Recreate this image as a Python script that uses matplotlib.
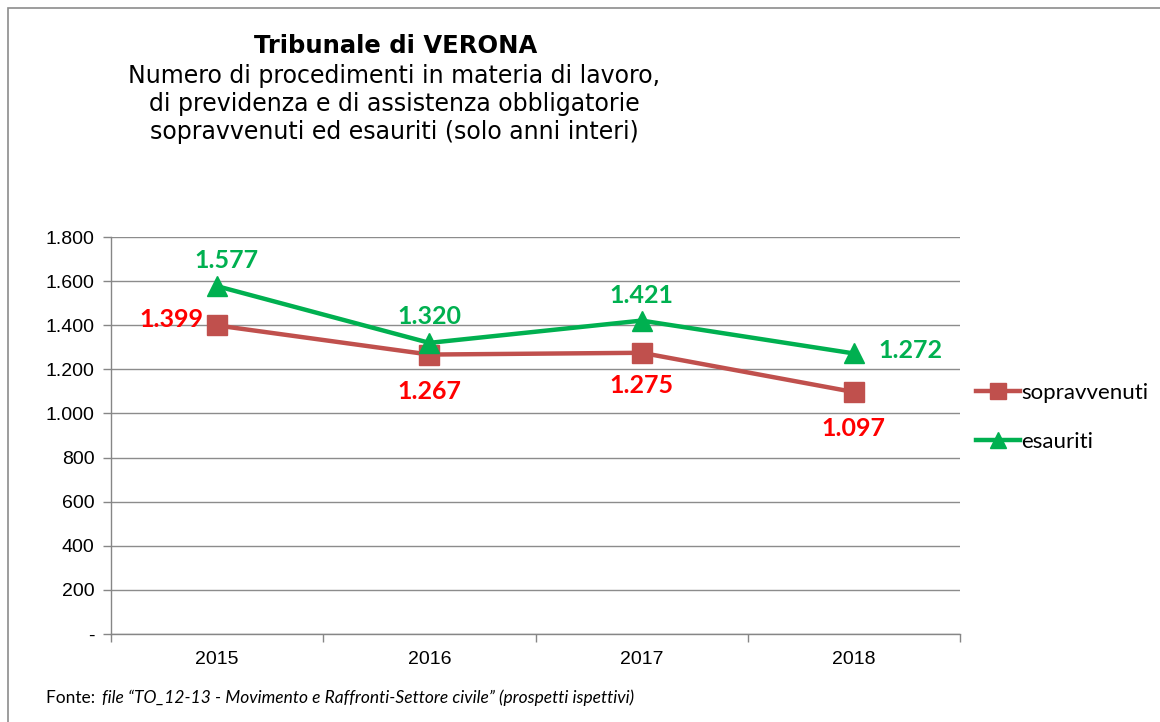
import matplotlib
matplotlib.use("Agg")
import matplotlib.pyplot as plt
from matplotlib.patches import Rectangle
from matplotlib.ticker import FuncFormatter, FixedLocator

years = ["2015", "2016", "2017", "2018"]
sopravvenuti = [1399, 1267, 1275, 1097]
esauriti = [1577, 1320, 1421, 1272]
yticks = [0, 200, 400, 600, 800, 1000, 1200, 1400, 1600, 1800]

red_line = "#C0504D"
green_line = "#00B050"
red_lab = "#FF0000"
green_lab = "#00B050"

fig = plt.figure(figsize=(11.6, 7.22), dpi=100)
fig.patch.set_facecolor("white")
# outer frame
fig.patches.append(Rectangle((8/1160, -0.1), 1.2, 1 - 8/722 + 0.1, transform=fig.transFigure,
                             fill=False, edgecolor="#8c8c8c", linewidth=1.2))

ax = fig.add_axes([111/1160, 1 - 634/722, (960-111)/1160, (634-237)/722])
x = list(range(len(years)))
ax.plot(x, sopravvenuti, color=red_line, linewidth=3.2, marker="s", markersize=15,
        label="sopravvenuti", zorder=3)
ax.plot(x, esauriti, color=green_line, linewidth=3.2, marker="^", markersize=15,
        label="esauriti", zorder=3)

ax.set_xlim(-0.5, 3.5)
ax.set_ylim(0, 1800)
ax.set_yticks(yticks)
def fmt(v, p):
    if v == 0:
        return "-"
    return f"{int(v):,}".replace(",", ".")
ax.yaxis.set_major_formatter(FuncFormatter(fmt))
ax.set_xticks(x)
ax.set_xticklabels(years)
ax.xaxis.set_minor_locator(FixedLocator([-0.5, 0.5, 1.5, 2.5, 3.5]))
ax.tick_params(axis="x", which="major", length=0, pad=12, labelsize=14, colors="#000000")
ax.tick_params(axis="x", which="minor", length=6, color="#868686", width=1)
ax.tick_params(axis="y", length=6, color="#868686", width=1, labelsize=14, pad=6)
for lab in ax.get_xticklabels() + ax.get_yticklabels():
    lab.set_fontfamily("Liberation Sans")
ax.grid(axis="y", color="#8c8c8c", linewidth=1)
ax.set_axisbelow(True)
for s in ["top", "right"]:
    ax.spines[s].set_visible(False)
for s in ["left", "bottom"]:
    ax.spines[s].set_color("#868686")
    ax.spines[s].set_linewidth(1)

def lab(v):
    return f"{v:,}".replace(",", ".")

lf = dict(fontfamily="Lato", fontweight="bold", fontsize=18)
offs_s = [(-10, 4, "right", "center"), (0, -18, "center", "top"), (0, -15, "center", "top"), (0, -18, "center", "top")]
for i, v in enumerate(sopravvenuti):
    dx, dy, ha, va = offs_s[i]
    ax.annotate(lab(v), (i, v), xytext=(dx, dy), textcoords="offset points", ha=ha, va=va,
                color=red_lab, **lf)
offs_e = [(7, 10, "center", "bottom"), (0, 11, "center", "bottom"), (0, 10, "center", "bottom"), (18, 2, "left", "center")]
for i, v in enumerate(esauriti):
    dx, dy, ha, va = offs_e[i]
    ax.annotate(lab(v), (i, v), xytext=(dx, dy), textcoords="offset points", ha=ha, va=va,
                color=green_lab, **lf)

leg = fig.legend(loc="upper left", bbox_to_anchor=(956/1160, 1 - 363/722), frameon=False,
                 prop=dict(family="Lato", size=16), handlelength=2.0, handletextpad=0.05,
                 labelspacing=1.3, markerscale=0.75)

fig.text(396/1160, 1 - 46/722, "Tribunale di VERONA", ha="center", va="center",
         fontfamily="DejaVu Sans", fontweight="bold", fontsize=17.5)
fig.text(394/1160, 1 - 104/722,
         "Numero di procedimenti in materia di lavoro,\ndi previdenza e di assistenza obbligatorie\nsopravvenuti ed esauriti (solo anni interi)",
         ha="center", va="center", fontfamily="DejaVu Sans", fontsize=17, linespacing=1.2)

t1 = fig.text(46/1160, 1 - 698/722, "Fonte: ", ha="left", va="center", fontfamily="Lato", fontsize=12.5)
fig.canvas.draw()
bb = t1.get_window_extent()
fig.text(bb.x1/1160 + 2/1160, 1 - 698/722,
         "file \u201cTO_12-13 - Movimento e Raffronti-Settore civile\u201d (prospetti ispettivi)",
         ha="left", va="center", fontfamily="Lato", fontstyle="italic", fontsize=12.5)

fig.savefig("out.png", dpi=100, facecolor="white")
